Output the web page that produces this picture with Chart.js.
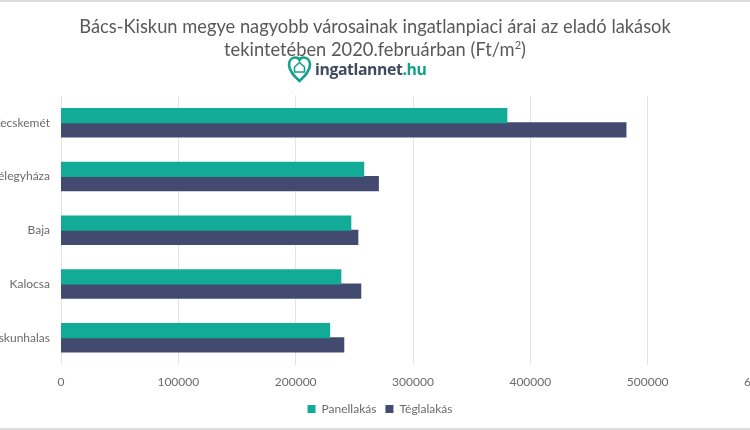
<!DOCTYPE html>
<html>
<head>
<meta charset="utf-8">
<script src="https://cdn.jsdelivr.net/npm/chart.js@4"></script>
<style>
html, body { margin: 0; padding: 0; background: #fff; }
body { position: relative; width: 750px; height: 430px; overflow: hidden; font-family: Lato, sans-serif; }
#topLine { position: absolute; left: 0; top: 0; width: 750px; height: 2px; background: #dcdcdc; }
#bottomLine { position: absolute; left: 0; top: 428px; width: 750px; height: 2px; background: #dcdcdc; }
#title { position: absolute; left: 0; top: 15px; width: 750px; text-align: center; color: #595959; font-size: 18.3px; line-height: 23px; }
#title sup { font-size: 11px; line-height: 0; }
#logo { position: absolute; left: 287px; top: 55px; height: 28px; display: flex; align-items: center; }
#logo span { font-family: "Open Sans", sans-serif; font-weight: 700; font-size: 15.8px; color: #3f4a5f; letter-spacing: -0.4px; margin-left: 3px; }
#logo b { color: #13a08f; font-weight: 700; }
#wrap { position: absolute; left: -53px; top: 0; width: 860px; height: 430px; }
</style>
</head>
<body>
<div id="topLine"></div>
<div id="bottomLine"></div>
<div id="wrap"><canvas id="chart" width="860" height="430"></canvas></div>
<div id="title">Bács-Kiskun megye nagyobb városainak ingatlanpiaci árai az eladó lakások<br>tekintetében 2020.februárban (Ft/m<sup>2</sup>)</div>
<div id="logo">
  <svg width="25" height="28" viewBox="0 0 25 28">
    <path d="M12.5 26 C7 21 2 16 2 9.5 C2 5 5 2.5 8.5 2.5 C10.5 2.5 11.8 3.5 12.5 5 C13.2 3.5 14.5 2.5 16.5 2.5 C20 2.5 23 5 23 9.5 C23 16 18 21 12.5 26 Z" fill="none" stroke="#13a08f" stroke-width="2.6"/>
    <path d="M7.5 12 L12.5 7.5 L17.5 12 L17.5 17 L7.5 17 Z" fill="none" stroke="#13a08f" stroke-width="1.6"/>
  </svg>
  <span>ingatlannet<b>.hu</b></span>
</div>
<script>
const categories = ["Kecskemét", "Kiskunfélegyháza", "Baja", "Kalocsa", "Kiskunhalas"];
const panelValues = [380000, 258000, 247000, 238500, 229000];
const teglaValues = [481500, 270500, 253000, 255500, 241000];
const xTicks = [0, 100000, 200000, 300000, 400000, 500000, 600000];

const textColor = "#6b6b6b";

new Chart(document.getElementById("chart"), {
    type: "bar",
    data: {
        labels: categories,
        datasets: [
            { label: "Panellakás", data: panelValues, backgroundColor: "#12ab97" },
            { label: "Téglalakás", data: teglaValues, backgroundColor: "#434a70" }
        ]
    },
    options: {
        indexAxis: "y",
        responsive: false,
        animation: false,
        devicePixelRatio: 1,
        layout: { padding: { top: 96, right: 42, bottom: 5, left: 48 } },
        datasets: { bar: { barPercentage: 1, categoryPercentage: 0.53, inflateAmount: 0.5 } },
        scales: {
            x: {
                min: 0,
                max: 600000,
                afterBuildTicks: (axis) => { axis.ticks = xTicks.map((v) => ({ value: v })); },
                afterFit: (axis) => { axis.height = axis.height - 5; },
                grid: { color: "#e4e4e4", drawTicks: false },
                border: { display: false },
                ticks: { color: textColor, padding: 10, maxRotation: 0, autoSkip: false, font: { family: "Lato", size: 12 }, callback: (v) => String(v) }
            },
            y: {
                afterFit: (axis) => { axis.width = 66; },
                grid: { display: false },
                border: { display: false },
                ticks: { color: textColor, padding: 3, autoSkip: false, font: { family: "Lato", size: 12 } }
            }
        },
        plugins: {
            tooltip: { enabled: false },
            legend: {
                position: "bottom",
                labels: { color: textColor, boxWidth: 8, boxHeight: 8, padding: 9, font: { family: "Lato", size: 12 } }
            }
        }
    }
});
</script>
</body>
</html>
